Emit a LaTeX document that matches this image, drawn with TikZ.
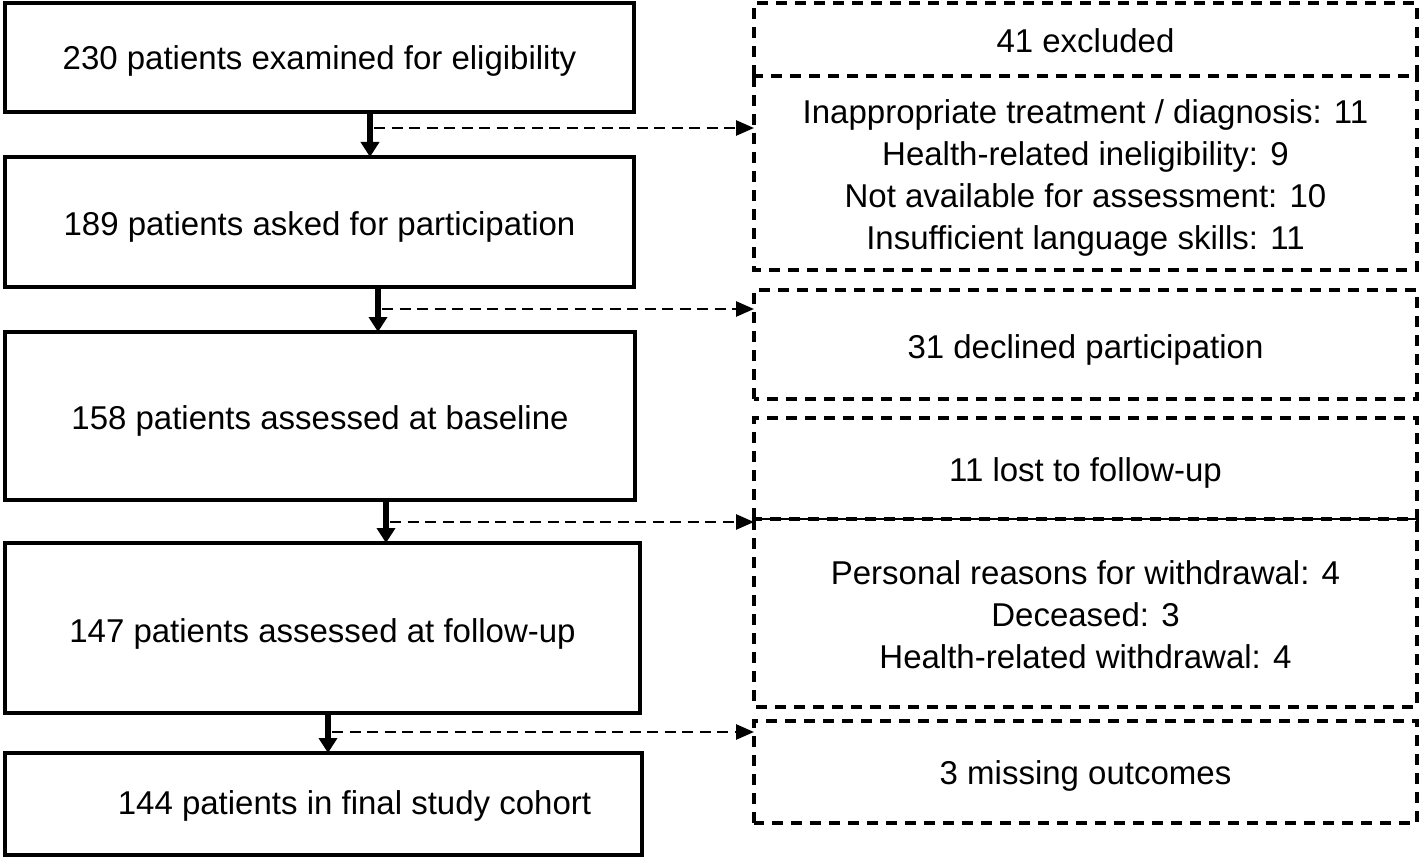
\documentclass[tikz,border=0pt]{standalone}
\usepackage{fontspec}
\setmainfont{Liberation Sans}
\usetikzlibrary{arrows.meta}
\begin{document}
\begin{tikzpicture}[x=1pt,y=-1pt,
  every node/.style={font=\fontsize{33}{41.7}\selectfont, inner sep=0pt, outer sep=0pt},
  solidbox/.style={draw, line width=3.5pt, rectangle, minimum width=#1},
  solidbox/.default=629pt,
  dashline/.style={line width=3.6pt, dash pattern=on 11pt off 8pt},
  dashbox/.style={rectangle, minimum width=663pt},
  boxtext/.style={align=center},
  downarrow/.style={line width=6pt, -{Triangle[length=15pt,width=18pt]}},
  sidearrow/.style={line width=2.6pt, dash pattern=on 11pt off 6.5pt, -{Triangle[length=18pt,width=15pt]}}
]
\useasboundingbox (0,0) rectangle (1420,858);

% left column
\node[solidbox=629pt, minimum height=109pt] (b1) at (319.5,57.5) {};
\node[solidbox=629pt, minimum height=130pt] (b2) at (319.5,222) {};
\node[solidbox=630pt, minimum height=168pt] (b3) at (320,416) {};
\node[solidbox=635pt, minimum height=170pt] (b4) at (322.5,628) {};
\node[solidbox=637pt, minimum height=102pt] (b5) at (323.5,804) {};
\node[boxtext] (t1) at ([yshift=-3pt]b1.center) {230 patients examined for eligibility};
\node[boxtext] (t2) at ([yshift=-5pt]b2.center) {189 patients asked for participation};
\node[boxtext] (t3) at ([yshift=-5pt]b3.center) {158 patients assessed at baseline};
\node[boxtext] (t4) at ([yshift=-6pt]b4.center) {147 patients assessed at follow-up};
\node[boxtext] (t5) at ([xshift=31pt,yshift=-2pt]b5.center) {144 patients in final study cohort};

% right column (box outlines)
\node[dashbox, minimum height=73pt] (r1) at (1085.5,39.5) {};
\node[dashbox, minimum height=194pt] (r2) at (1085.5,173) {};
\node[dashbox, minimum height=109pt] (r3) at (1085.5,344.5) {};
\node[dashbox, minimum height=101pt] (r4) at (1085.5,468.5) {};
\node[dashbox, minimum height=188pt] (r4b) at (1085.5,613) {};
\node[dashbox, minimum height=102pt] (r5) at (1085.5,772) {};
\draw[dashline] (r1.south west) rectangle (r1.north east);
\draw[dashline] (r2.north west) -- (r2.south west) -- (r2.south east) -- (r2.north east);
\draw[dashline] (r3.south west) rectangle (r3.north east);
\draw[dashline] (r4.south west) rectangle (r4.north east);
\draw[dashline] (r4b.north west) -- (r4b.south west) -- (r4b.south east) -- (r4b.north east);
\draw[dashline] (r5.south west) rectangle (r5.north east);
\draw[line width=1.5pt] (r4b.north west) -- (r4b.north east);

% right column texts
\node[boxtext] (s1) at ([yshift=-1pt]r1.center) {41 excluded};
\node[boxtext] (s2) at ([yshift=-5pt]r2.center) {Inappropriate treatment / diagnosis: 11\\Health-related ineligibility: 9\\Not available for assessment: 10\\Insufficient language skills: 11};
\node[boxtext] (s3) at ([yshift=-5pt]r3.center) {31 declined participation};
\node[boxtext] (s4) at ([yshift=-4pt]r4.center) {11 lost to follow-up};
\node[boxtext] (s4b) at ([yshift=-1.5pt]r4b.center) {Personal reasons for withdrawal: 4\\Deceased: 3\\Health-related withdrawal: 4};
\node[boxtext] (s5) at ([yshift=-4pt]r5.center) {3 missing outcomes};

% junction points
\coordinate (j1) at (370,128);
\coordinate (j2) at (378,309);
\coordinate (j3) at (386,522);
\coordinate (j4) at (328,732);

% vertical arrows
\draw[downarrow] (j1 |- b1.south) -- (j1 |- b2.north);
\draw[downarrow] (j2 |- b2.south) -- (j2 |- b3.north);
\draw[downarrow] (j3 |- b3.south) -- (j3 |- b4.north);
\draw[downarrow] (j4 |- b4.south) -- (j4 |- b5.north);

% side arrows
\draw[sidearrow] ([xshift=4pt]j1) -- (j1 -| r2.west);
\draw[sidearrow] ([xshift=4pt]j2) -- (j2 -| r3.west);
\draw[sidearrow] ([xshift=4pt]j3) -- (j3 -| r4b.west);
\draw[sidearrow] ([xshift=4pt]j4) -- (j4 -| r5.west);
\end{tikzpicture}
\end{document}
